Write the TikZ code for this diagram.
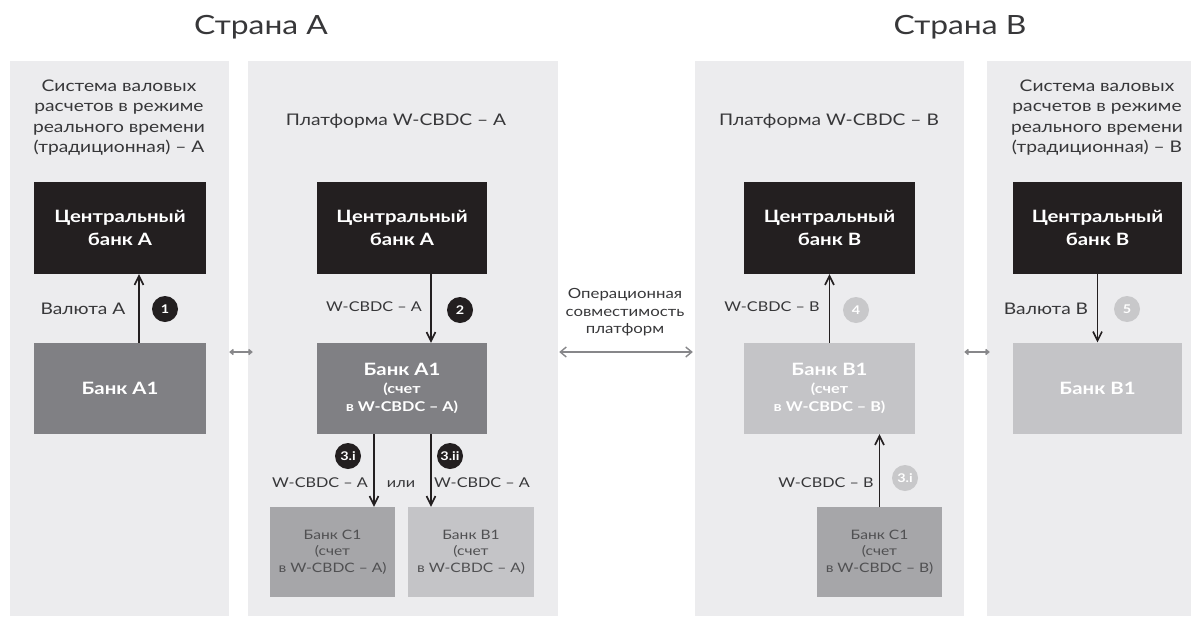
\documentclass[tikz,border=0pt]{standalone}
\usepackage{fontspec}
\setmainfont{Lato}[FakeStretch=1.2]
\usetikzlibrary{arrows.meta}
\definecolor{panelbg}{RGB}{236,236,238}
\definecolor{darkc}{RGB}{35,31,32}
\definecolor{midg}{RGB}{128,128,132}
\definecolor{cgray}{RGB}{166,166,169}
\definecolor{lgray}{RGB}{196,196,199}
\definecolor{circl}{RGB}{200,200,202}
\definecolor{txtg}{RGB}{55,55,57}
\definecolor{smallt}{RGB}{80,80,82}
\definecolor{dblg}{RGB}{135,135,138}
\tikzset{
  panelbox/.style={fill=panelbg, draw=none, inner sep=0pt},
  cbbox/.style={fill=darkc, text=white, minimum width=171pt, minimum height=92pt, inner sep=0pt, align=center, font=\fontsize{17}{23}\selectfont\bfseries},
  bankbig/.style={minimum width=171pt, minimum height=91pt, inner sep=0pt, align=center, text=white},
  banksmall/.style={minimum width=125pt, minimum height=90pt, inner sep=0pt, align=center, text=smallt, font=\fontsize{13}{16.5}\selectfont},
  heading/.style={align=center, text=txtg, font=\fontsize{16}{20.5}\selectfont, inner sep=0pt},
  title/.style={text=txtg, font=\fontsize{26.5}{30}\selectfont, inner sep=0pt},
  lbl/.style={text=txtg, font=\fontsize{13.5}{16}\selectfont, inner sep=0pt},
  lblbig/.style={text=txtg, font=\fontsize{16}{18}\selectfont, inner sep=0pt},
  numdark/.style={circle, fill=darkc, text=white, minimum size=26pt, inner sep=0pt, font=\fontsize{12}{13}\selectfont\bfseries},
  numlight/.style={circle, fill=circl, text=white, minimum size=26pt, inner sep=0pt, font=\fontsize{12}{13}\selectfont\bfseries},
  arr/.style={draw=darkc, line width=1.7pt, -{Straight Barb[length=9pt,width=9pt,line width=1.6pt]}},
  dbl/.style={draw=dblg, line width=1.4pt, {Straight Barb[length=6pt,width=10pt]}-{Straight Barb[length=6pt,width=10pt]}},
  dbls/.style={draw=dblg, line width=1.6pt, {Straight Barb[length=3pt,width=5pt]}-{Straight Barb[length=3pt,width=5pt]}},
}
\begin{document}
\begin{tikzpicture}[x=1pt,y=-1pt]
\useasboundingbox (0,0) rectangle (1191,616);
% panels
\node[panelbox, minimum width=219pt, minimum height=555pt] (p1) at (119.5,338.5) {};
\node[panelbox, minimum width=310pt, minimum height=555pt] (p2) at (403,338.5) {};
\node[panelbox, minimum width=269pt, minimum height=555pt] (p3) at (829.5,338.5) {};
\node[panelbox, minimum width=204pt, minimum height=555pt] (p4) at (1089,338.5) {};
% titles
\node[title] (tA) at (261,27) {Страна А};
\node[title] (tB) at (960,27) {Страна В};
\node[heading] (h1) at (119,117.5) {Система валовых\\расчетов в режиме\\реального времени\\(традиционная) – А};
\node[heading] (h2) at (396,121) {Платформа W-CBDC – А};
\node[heading] (h3) at (829,121) {Платформа W-CBDC – В};
\node[heading] (h4) at (1097,117.5) {Система валовых\\расчетов в режиме\\реального времени\\(традиционная) – В};
% central banks
\node[cbbox, minimum width=172pt] (cb1) at (120,228) {Центральный\\банк А};
\node[cbbox, minimum width=170pt] (cb2) at (402,228) {Центральный\\банк А};
\node[cbbox] (cb3) at (829.5,228) {Центральный\\банк В};
\node[cbbox, minimum width=169pt] (cb4) at (1097.5,228) {Центральный\\банк В};
% banks
\node[bankbig, fill=midg, minimum width=172pt, font=\fontsize{17}{20}\selectfont\bfseries] (b1) at (120,388.5) {Банк А1};
\node[bankbig, fill=midg, minimum width=170pt, font=\fontsize{13.5}{18}\selectfont\bfseries] (b2) at (402,388.5) {{\fontsize{17}{20}\selectfont Банк А1}\\[0pt](счет\\в W-CBDC – А)};
\node[bankbig, fill=lgray, font=\fontsize{13.5}{18}\selectfont\bfseries] (b3) at (829.5,388.5) {{\fontsize{17}{20}\selectfont Банк В1}\\[0pt](счет\\в W-CBDC – В)};
\node[bankbig, fill=lgray, minimum width=169pt, font=\fontsize{17}{20}\selectfont\bfseries] (b4) at (1097.5,388) {Банк В1};
\node[banksmall, fill=cgray] (cA) at (332.5,552) {Банк C1\\(счет\\в W-CBDC – А)};
\node[banksmall, fill=lgray, minimum width=126pt] (bBA) at (471,552) {Банк B1\\(счет\\в W-CBDC – А)};
\node[banksmall, fill=cgray] (cB) at (879.5,552) {Банк C1\\(счет\\в W-CBDC – В)};
% arrows
\draw[arr] ([xshift=19pt]b1.north) -- ([xshift=19pt]cb1.south);
\draw[arr] ([xshift=29pt]cb2.south) -- ([xshift=29pt]b2.north);
\draw[arr] ([xshift=-28pt]b2.south) -- ([xshift=-28pt]b2.south |- cA.north);
\draw[arr] ([xshift=29pt]b2.south) -- ([xshift=29pt]b2.south |- bBA.north);
\draw[arr] (b3.north) -- (cb3.south);
\draw[arr] (cB.north) -- (cB.north |- b3.south);
\draw[arr] (cb4.south) -- (b4.north);
% labels
\node[lblbig] (l1) at (83,309) {Валюта А};
\node[numdark] (n1) at (165,309) {1};
\node[lbl] (l2) at (374,307) {W-CBDC – А};
\node[numdark] (n2) at (460,310) {2};
\node[numdark] (n3i) at (348,456) {3.i};
\node[numdark] (n3ii) at (450,456) {3.ii};
\node[lbl] (l3i) at (320,483) {W-CBDC – А};
\node[lbl] (ili) at (401,484) {или};
\node[lbl] (l3ii) at (482,483) {W-CBDC – А};
\node[lbl, align=center, font=\fontsize{14}{17.5}\selectfont] (mid) at (625,312.5) {Операционная\\совместимость\\платформ};
\node[lbl] (l4) at (772,307) {W-CBDC – В};
\node[numlight] (n4) at (856,310) {4};
\node[lbl] (l3b) at (826,483) {W-CBDC – В};
\node[numlight] (n3b) at (905,478) {3.i};
\node[lblbig] (l5) at (1046,309) {Валюта В};
\node[numlight] (n5) at (1127,309) {5};
% interoperability arrows
\coordinate (yl) at (0,352);
\draw[dbls] (p1.east |- yl) -- ([xshift=5pt]p2.west |- yl);
\draw[dbl] ([xshift=1pt]p2.east |- yl) -- ([xshift=-2pt]p3.west |- yl);
\draw[dbls] (p3.east |- yl) -- ([xshift=3pt]p4.west |- yl);
\end{tikzpicture}
\end{document}
